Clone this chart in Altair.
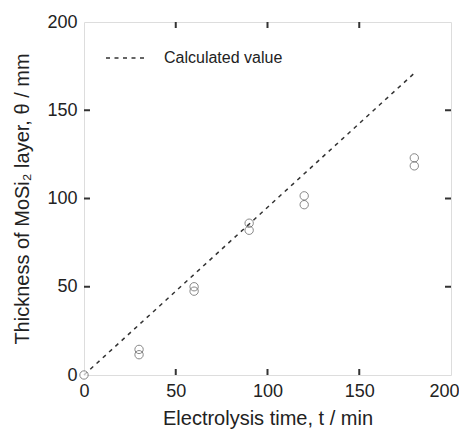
import altair as alt
import pandas as pd

# Measured data
t_meas = [0, 30, 30, 60, 60, 90, 90, 120, 120, 180, 180]
thick_meas = [0, 14.5, 11.5, 50, 47.5, 86, 82, 101.5, 96.5, 123, 118.5]

# Calculated line
t_calc = [0, 180]
thick_calc = [0, 171]
series_name = "Calculated value"

tick_vals = [50, 100, 150]
axis_vals = [0, 50, 100, 150, 200]

W, H = 367, 353
FONT = "Liberation Sans"
TXT = "#222"
AX = "#333"

xs = alt.Scale(domain=[0, 200], nice=False, zero=False)
ys = alt.Scale(domain=[0, 200], nice=False, zero=False)

meas_df = pd.DataFrame({"t": t_meas, "thickness": thick_meas})
calc_df = pd.DataFrame({"t": t_calc, "thickness": thick_calc, "series": [series_name] * len(t_calc)})
tick_df = pd.DataFrame({"t": tick_vals, "thickness": tick_vals})

x_axis = alt.Axis(values=axis_vals, ticks=False, domain=False, grid=False, labelFlush=False,
                  labelOffset=alt.condition("datum.value == 200", alt.value(-7), alt.value(0)),
                  labelFontSize=18, labelFont=FONT, labelColor=TXT, labelPadding=7,
                  title="Electrolysis time, t / min", titleFontSize=20, titleFont=FONT,
                  titleFontWeight="normal", titleColor=TXT, titlePadding=8)
y_axis = alt.Axis(values=axis_vals, ticks=False, domain=False, grid=False, labelFlush=False,
                  labelFontSize=18, labelFont=FONT, labelColor=TXT, labelPadding=7,
                  title="Thickness of MoSi₂ layer, θ / mm", titleFontSize=20, titleFont=FONT,
                  titleFontWeight="normal", titleColor=TXT, titlePadding=14)

line = alt.Chart(calc_df).mark_line(color=AX, strokeWidth=1.5).encode(
    x=alt.X("t:Q", scale=xs, axis=x_axis),
    y=alt.Y("thickness:Q", scale=ys, axis=y_axis),
    strokeDash=alt.StrokeDash(
        "series:N",
        scale=alt.Scale(domain=[series_name], range=[[4, 4.5]]),
        legend=alt.Legend(title=None, orient="none", legendX=21, legendY=16, padding=0,
                          symbolType="stroke", symbolSize=1444, symbolStrokeWidth=1.5,
                          symbolStrokeColor=AX, labelFontSize=16, labelFont=FONT,
                          labelColor=TXT, labelOffset=19),
    ),
)

pts = alt.Chart(meas_df).mark_point(shape="circle", size=70, strokeWidth=1, color="#555", filled=False).encode(
    x=alt.X("t:Q", scale=xs),
    y=alt.Y("thickness:Q", scale=ys),
    fill=alt.condition("datum.t == 0", alt.value("white"), alt.value("transparent")),
)

tl = 6
ticks_bottom = alt.Chart(tick_df).mark_rule(color=AX, strokeWidth=2, y=H, y2=H - tl).encode(
    x=alt.X("t:Q", scale=xs))
ticks_top = alt.Chart(tick_df).mark_rule(color=AX, strokeWidth=2, y=0, y2=tl).encode(
    x=alt.X("t:Q", scale=xs))
ticks_left = alt.Chart(tick_df).mark_rule(color=AX, strokeWidth=2, x=0, x2=tl).encode(
    y=alt.Y("thickness:Q", scale=ys))
ticks_right = alt.Chart(tick_df).mark_rule(color=AX, strokeWidth=2, x=W, x2=W - tl).encode(
    y=alt.Y("thickness:Q", scale=ys))

chart = alt.layer(line, ticks_bottom, ticks_top, ticks_left, ticks_right, pts).properties(
    width=W, height=H,
    autosize=alt.AutoSizeParams(type="none"),
    padding={"left": 76, "top": 14, "right": 8, "bottom": 60},
).configure_view(stroke=AX, strokeWidth=2).configure(background="white")

chart.save("out.html", embed_options={"renderer": "svg", "actions": False})
